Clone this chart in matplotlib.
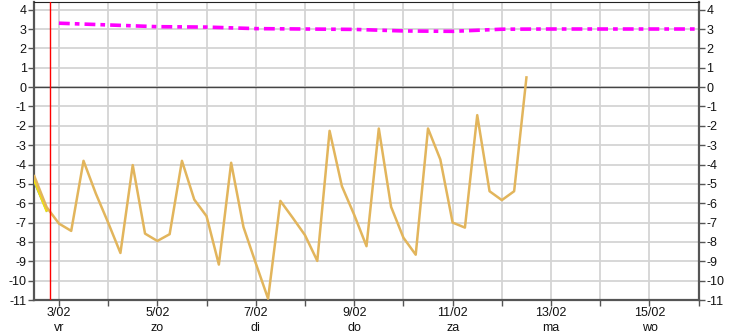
import matplotlib
matplotlib.use("Agg")
import matplotlib.pyplot as plt
import matplotlib.dates as mdates
import numpy as np
import pandas as pd

plt.rcParams['font.family'] = ['Liberation Sans', 'DejaVu Sans']
plt.rcParams['axes.unicode_minus'] = False

# ---- data ----
gold_start = "2023-02-02 12:00"
gold_values = [-4.6, -6.2, -7.05, -7.43, -3.81, -5.5, -7.0, -8.57, -4.03, -7.57,
               -7.95, -7.6, -3.81, -5.81, -6.67, -9.17, -3.91, -7.23, -9.1, -10.93,
               -5.88, -6.75, -7.65, -8.98, -2.26, -5.12, -6.6, -8.22, -2.14, -6.19,
               -7.78, -8.66, -2.14, -3.74, -7.0, -7.26, -1.45, -5.38, -5.84, -5.38, 0.5]
yellow_times = ["2023-02-02 12:00", "2023-02-02 18:00"]
yellow_values = [-4.8, -6.36]
blue_values = [-4.95, -6.42]
magenta_start = "2023-02-03 00:00"
magenta_values = [3.30, 3.21, 3.12, 3.10, 3.02, 3.00, 2.98, 2.90, 2.88, 2.99,
                  3.0, 3.0, 3.0, 3.0]
now_time = "2023-02-02 19:30"
day_names = ['ma', 'di', 'wo', 'do', 'vr', 'za', 'zo']
y_ticks = list(range(-11, 5))

gold_t = pd.date_range(gold_start, periods=len(gold_values), freq="6h")
mag_t = pd.date_range(magenta_start, periods=len(magenta_values), freq="1D")
yel_t = pd.to_datetime(yellow_times)

fig = plt.figure(figsize=(7.32, 3.36), dpi=100)
ax = fig.add_axes([34.3/732, 1-300/336, (698.7-34.3)/732, (300-2.3)/336])

xmin = pd.Timestamp("2023-02-02 12:00")
xmax = pd.Timestamp("2023-02-16 00:00")
ax.set_xlim(xmin, xmax)
ax.set_ylim(-11, 4.38)

# grid
ax.set_yticks(y_ticks)
ax.xaxis.set_major_locator(mdates.DayLocator())
def fmt(x, pos):
    d = mdates.num2date(x)
    if d.day % 2 == 1:
        return f"{d.day}/{d.month:02d}\n{day_names[d.weekday()]}"
    return ""
ax.xaxis.set_major_formatter(plt.FuncFormatter(fmt))
ax.grid(True, color='#d4d4d4', lw=1.3, zorder=0)
ax.set_axisbelow(True)

ax.axhline(0, color='#444444', lw=1.0, zorder=1)

ax.plot(mag_t, magenta_values, color='#ff00ff', lw=2.6,
        linestyle=(0, (3.0, 1.4, 1.3, 1.4)), zorder=3, solid_capstyle='butt')
ax.plot(yel_t, blue_values, color='#4a7ad8', lw=1.0, zorder=3)
ax.plot(yel_t, yellow_values, color='#f0e010', lw=2.2, zorder=4)
ax.plot(gold_t, gold_values, color='#e2b55c', lw=1.8, zorder=5)
ax.axvline(pd.Timestamp(now_time), color='#ff0000', lw=1.0, zorder=6)

for s in ['left', 'bottom', 'right']:
    ax.spines[s].set_color('#555555')
    ax.spines[s].set_linewidth(1.6)
ax.spines['top'].set_color('#222222')
ax.spines['top'].set_linewidth(0.8)

ax.tick_params(axis='y', which='both', left=True, right=True, labelleft=True,
               labelright=True, length=4, width=1, color='#555555',
               labelsize=9, pad=1.5, labelcolor='#111111')
ax.tick_params(axis='x', length=4, width=1, color='#555555', labelsize=9,
               pad=1, labelcolor='#111111')
for lab in ax.get_xticklabels():
    lab.set_linespacing(1.3)

fig.savefig("out.png", dpi=100)
